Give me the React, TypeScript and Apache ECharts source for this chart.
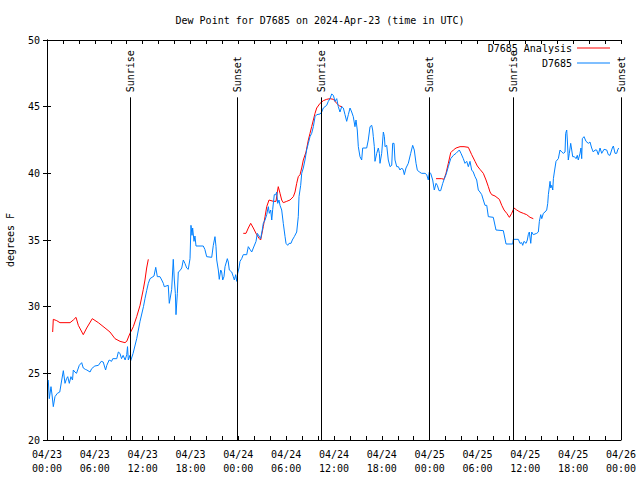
import React, { useEffect, useRef } from "react";
import * as echarts from "echarts";

const titleText = "Dew Point for D7685 on 2024-Apr-23 (time in UTC)";
const xTickLabels = [
  "04/23\n00:00", "04/23\n06:00", "04/23\n12:00", "04/23\n18:00",
  "04/24\n00:00", "04/24\n06:00", "04/24\n12:00", "04/24\n18:00",
  "04/25\n00:00", "04/25\n06:00", "04/25\n12:00", "04/25\n18:00",
  "04/26\n00:00",
];

// Sunrise / sunset times, hours after 04/23 00:00 UTC
const sunHours = [10.41, 23.83, 34.37, 47.93, 58.47, 71.95];
const sunLabels = ["Sunrise", "Sunset", "Sunrise", "Sunset", "Sunrise", "Sunset"];
const sunLineTop = 45.7;

// Observations (D7685): [hours after start, dew point F]
const obsPoints: [number, number][] = [
  [0.16, 24.5], [0.29, 23.1], [0.5, 24.0], [0.65, 23.3], [0.79, 22.5], [1.0, 23.25], [1.3, 23.5],
  [1.6, 23.6], [1.85, 24.5], [2.05, 25.2], [2.26, 24.25], [2.45, 24.6], [2.6, 24.75], [2.8, 24.25],
  [3.0, 24.75], [3.2, 24.5], [3.3, 25.25], [3.5, 25.1], [3.7, 25.0], [4.05, 25.6], [4.35, 25.8],
  [4.55, 25.4], [4.8, 25.3], [5.0, 25.25], [5.4, 25.1], [5.6, 25.35], [6.0, 25.55], [6.45, 25.6],
  [6.8, 25.9], [7.05, 25.85], [7.35, 25.25], [7.5, 25.6], [7.8, 26.0], [8.1, 25.9], [8.25, 26.1],
  [8.75, 26.1], [8.95, 26.6], [9.15, 26.5], [9.35, 26.1], [9.55, 26.35], [9.8, 26.0], [10.0, 26.4],
  [10.1, 27.0], [10.2, 26.0], [10.4, 26.35], [10.5, 25.95], [10.8, 26.5], [11.25, 27.6],
  [11.67, 28.9], [12.1, 30.0], [12.29, 30.6], [12.5, 31.2], [12.71, 31.75], [12.92, 32.1],
  [13.42, 32.3], [13.64, 32.95], [13.84, 32.25], [14.17, 32.25], [14.39, 32.0], [14.59, 31.75],
  [14.71, 31.5], [15.21, 31.6], [15.34, 30.25], [15.5, 30.8], [15.64, 31.3], [15.84, 33.55],
  [15.97, 32.0], [16.1, 31.0], [16.18, 29.4], [16.35, 31.0], [16.47, 32.6], [16.68, 32.7],
  [16.9, 32.9], [17.1, 33.5], [17.3, 33.25], [17.52, 32.9], [17.72, 32.8], [17.94, 33.6],
  [18.06, 36.1], [18.19, 35.35], [18.27, 35.9], [18.44, 34.9], [18.56, 35.3], [18.69, 34.55],
  [19.6, 34.55], [19.8, 34.3], [20.03, 33.75], [20.66, 33.7], [20.86, 34.6], [21.07, 35.25],
  [21.2, 34.5], [21.29, 33.5], [21.49, 32.75], [21.61, 32.05], [21.79, 32.75], [21.91, 32.6],
  [22.04, 32.0], [22.2, 32.25], [22.33, 33.0], [22.62, 33.6], [22.74, 33.35], [22.87, 32.75],
  [23.17, 32.6], [23.37, 32.25], [23.5, 32.0], [23.67, 32.4], [23.8, 31.9], [23.92, 32.5],
  [24.08, 32.9], [24.21, 33.4], [24.42, 33.6], [24.62, 33.9], [25.05, 33.9], [25.25, 34.5],
  [25.46, 34.3], [25.68, 34.1], [25.88, 34.4], [26.22, 34.9], [26.38, 35.5], [26.6, 35.3],
  [26.8, 35.1], [27.0, 35.75], [27.13, 36.25], [27.35, 36.5], [27.56, 36.9], [27.76, 37.5],
  [27.89, 37.0], [28.06, 37.25], [28.19, 36.5], [28.31, 37.3], [28.51, 38.4], [28.69, 38.4],
  [28.81, 38.6], [28.94, 37.75], [29.1, 38.0], [29.23, 37.6], [29.44, 37.25], [29.64, 36.25],
  [29.86, 35.25], [29.98, 34.75], [30.19, 34.6], [30.36, 34.75], [30.61, 34.75], [30.77, 35.0],
  [31.02, 35.25], [31.32, 35.6], [31.52, 36.75], [31.61, 38.25], [31.82, 39.1], [31.95, 40.0],
  [32.15, 40.4], [32.36, 41.0], [32.57, 41.75], [32.78, 42.25], [32.99, 42.75], [33.2, 43.0],
  [33.41, 43.5], [33.62, 44.25], [33.83, 44.4], [34.25, 44.45], [34.46, 44.6], [34.66, 44.9],
  [35.08, 45.1], [35.29, 45.4], [35.5, 45.6], [35.71, 45.95], [35.92, 45.85], [36.13, 45.4],
  [36.34, 45.6], [36.54, 45.0], [36.75, 44.6], [36.97, 45.0], [37.17, 44.9], [37.38, 44.4],
  [37.59, 43.9], [37.8, 44.4], [38.01, 44.9], [38.22, 44.6], [38.42, 44.25], [38.63, 43.5],
  [38.76, 44.0], [38.92, 43.25], [39.05, 42.0], [39.26, 41.25], [39.47, 41.0], [39.6, 41.9],
  [40.1, 41.9], [40.3, 42.5], [40.52, 43.5], [40.73, 43.6], [40.85, 43.25], [40.93, 42.75],
  [41.06, 42.0], [41.14, 40.9], [41.36, 41.5], [41.56, 41.9], [41.69, 41.5], [41.77, 40.75],
  [41.98, 41.5], [42.19, 43.1], [42.32, 42.75], [42.4, 42.0], [42.61, 42.1], [42.81, 41.0],
  [43.03, 40.5], [43.24, 40.6], [43.36, 42.25], [43.53, 42.25], [43.65, 41.0], [43.87, 40.5],
  [44.07, 40.5], [44.28, 40.25], [44.49, 40.4], [44.69, 40.25], [44.82, 39.9], [45.03, 40.4],
  [45.32, 40.75], [45.62, 41.5], [45.87, 42.1], [46.07, 41.75], [46.29, 40.75], [46.45, 40.25],
  [46.7, 40.1], [47.0, 40.0], [47.42, 40.0], [47.63, 39.9], [47.83, 39.5], [47.95, 40.1],
  [48.13, 40.0], [48.38, 39.5], [48.58, 38.75], [48.8, 39.25], [48.96, 39.1], [49.17, 38.7],
  [49.38, 38.7], [49.64, 39.25], [49.84, 39.6], [50.05, 39.9], [50.34, 40.5], [50.64, 41.1],
  [50.97, 41.35], [51.31, 41.5], [51.47, 41.6], [51.72, 41.75], [51.93, 41.5], [52.22, 41.1],
  [52.43, 40.75], [52.65, 40.9], [52.85, 40.5], [53.06, 40.9], [53.27, 40.25], [53.47, 40.1],
  [53.69, 39.75], [53.9, 39.5], [54.1, 38.75], [54.31, 38.6], [54.53, 38.4], [54.73, 38.0],
  [54.94, 37.6], [55.16, 37.6], [55.36, 36.75], [55.98, 36.7], [56.32, 35.75], [57.24, 35.7],
  [57.58, 34.7], [58.42, 34.7], [58.49, 35.05], [59.12, 35.05], [59.33, 34.75], [59.55, 34.8],
  [59.67, 34.6], [59.83, 34.9], [60.09, 34.75], [60.25, 35.0], [60.37, 35.4], [60.5, 35.6],
  [60.68, 34.75], [60.8, 35.6], [61.0, 35.4], [61.43, 35.5], [61.63, 35.6], [61.76, 36.4],
  [61.93, 36.9], [62.06, 36.6], [62.26, 37.0], [62.47, 37.1], [62.68, 37.25], [62.81, 37.75],
  [62.89, 38.4], [63.1, 39.4], [63.19, 38.9], [63.31, 39.1], [63.44, 38.75], [63.52, 39.6],
  [63.64, 40.1], [63.85, 40.9], [64.14, 41.1], [64.35, 41.75], [64.57, 41.6], [64.77, 41.5],
  [64.98, 41.6], [65.06, 43.0], [65.19, 43.25], [65.27, 42.5], [65.39, 41.0], [65.52, 41.5],
  [65.69, 42.25], [65.82, 41.75], [65.94, 41.25], [66.15, 41.25], [66.36, 41.1], [66.52, 41.35],
  [66.64, 41.0], [66.86, 41.5], [66.98, 41.9], [67.07, 41.1], [67.15, 42.6], [67.36, 42.75],
  [67.61, 42.4], [67.9, 42.25], [68.11, 42.35], [68.32, 41.9], [68.52, 41.6], [68.74, 41.75],
  [68.95, 41.75], [69.15, 41.4], [69.37, 41.9], [69.58, 41.5], [69.87, 41.8], [70.21, 41.75],
  [70.41, 41.4], [70.62, 41.35], [70.91, 41.9], [71.04, 42.05], [71.25, 41.5], [71.46, 41.5],
  [71.58, 41.75], [71.71, 41.9],
];

// Analysis (D7685 Analysis), three segments with gaps
const analysisSeg1: [number, number][] = [
  [0.71, 28.1], [0.79, 29.05], [1.22, 28.95], [1.63, 28.8], [2.89, 28.8], [3.3, 29.0], [3.64, 29.2],
  [3.93, 28.6], [4.55, 27.9], [4.98, 28.4], [5.68, 29.1], [6.44, 28.8], [7.28, 28.4], [7.9, 28.1],
  [8.53, 27.6], [9.16, 27.4], [9.78, 27.3], [10.0, 27.4], [10.41, 28.0], [10.83, 28.5],
  [11.25, 29.25], [11.67, 30.1], [12.08, 31.3], [12.29, 32.0], [12.5, 32.9], [12.71, 33.55],
];
const analysisSeg2: [number, number][] = [
  [24.62, 35.5], [24.96, 35.5], [25.25, 35.9], [25.55, 36.25], [25.88, 35.9], [26.3, 35.4],
  [26.63, 35.1], [26.8, 35.0], [27.13, 36.0], [27.35, 36.75], [27.56, 37.5], [27.85, 38.0],
  [28.39, 37.9], [28.73, 37.9], [28.89, 38.6], [29.01, 39.0], [29.23, 38.5], [29.44, 38.0],
  [29.64, 37.8], [30.07, 37.9], [30.48, 38.0], [30.9, 38.25], [31.11, 38.6], [31.32, 39.25],
  [31.52, 39.75], [31.74, 39.9], [31.95, 40.4], [32.15, 41.0], [32.49, 41.6], [32.78, 42.5],
  [32.99, 43.0], [33.2, 43.5], [33.41, 44.0], [33.62, 44.5], [33.83, 44.9], [34.25, 45.25],
  [34.66, 45.45], [35.08, 45.55], [35.5, 45.6], [35.92, 45.55], [36.34, 45.25], [36.67, 45.05],
  [37.0, 45.0],
];
const analysisSeg3: [number, number][] = [
  [48.8, 39.6], [49.51, 39.6], [49.8, 39.55], [50.05, 40.0], [50.34, 40.75], [50.64, 41.55],
  [50.97, 41.75], [51.31, 41.9], [51.81, 42.0], [52.31, 42.0], [52.85, 41.95], [53.27, 41.4],
  [53.69, 40.9], [53.98, 40.55], [54.31, 40.3], [54.73, 40.0], [55.07, 39.5], [55.36, 39.0],
  [55.57, 38.6], [55.78, 38.4], [56.2, 38.3], [56.74, 38.05], [57.04, 37.6], [57.33, 37.25],
  [57.67, 37.0], [58.0, 36.7], [58.29, 37.0], [58.58, 37.4], [58.92, 37.25], [59.33, 37.1],
  [59.75, 37.0], [60.17, 36.9], [60.59, 36.7], [61.0, 36.6],
];

const FONT = "DejaVu Sans Mono";

export default function App() {
  const ref = useRef<HTMLDivElement>(null);
  useEffect(() => {
    if (!ref.current) return;
    const chart = echarts.init(ref.current, null, { renderer: "svg" });
    const analysisData: any[] = [
      ...analysisSeg1,
      [18, "-"],
      ...analysisSeg2,
      [43, "-"],
      ...analysisSeg3,
    ];
    const axisCommon = {
      axisLine: { show: true, lineStyle: { color: "#000", width: 1 } },
      axisTick: { show: true, inside: true, length: 4, lineStyle: { color: "#000" } },
      splitLine: { show: false },
    };
    const option: any = {
      animation: false,
      backgroundColor: "#fff",
      textStyle: { fontFamily: FONT, fontSize: 10, color: "#000" },
      title: {
        text: titleText,
        left: "center",
        top: 10,
        textStyle: { fontFamily: FONT, fontSize: 10, fontWeight: "normal", color: "#000" },
      },
      grid: {
        left: 47,
        right: 19,
        top: 40,
        bottom: 40,
        containLabel: false,
        outerBoundsMode: "none",
      },
      legend: {
        data: ["D7685 Analysis", "D7685"],
        orient: "vertical",
        right: 30,
        top: 42,
        padding: 0,
        align: "right",
        icon: "rect",
        itemWidth: 33,
        itemHeight: 1,
        itemGap: 3,
        textStyle: { fontFamily: FONT, fontSize: 10, color: "#000", lineHeight: 12 },
      },
      xAxis: [
        {
          type: "value",
          min: 0,
          max: 72,
          interval: 6,
          ...axisCommon,
          minorTick: { show: true, splitNumber: 3, length: 4, lineStyle: { color: "#000" } },
          axisLabel: {
            formatter: (v: number) => xTickLabels[Math.round(v / 6)] ?? "",
            margin: 7,
            lineHeight: 14,
            fontFamily: FONT,
            fontSize: 10,
            color: "#000",
          },
        },
        {
          type: "value",
          position: "top",
          min: 0,
          max: 72,
          interval: 6,
          ...axisCommon,
          minorTick: { show: true, splitNumber: 3, length: 4, lineStyle: { color: "#000" } },
          axisLabel: { show: false },
        },
      ],
      yAxis: [
        {
          type: "value",
          min: 20,
          max: 50,
          interval: 5,
          ...axisCommon,
          name: "degrees F",
          nameLocation: "middle",
          nameGap: 32,
          nameRotate: 90,
          nameTextStyle: { fontFamily: FONT, fontSize: 10, color: "#000" },
          axisLabel: { margin: 7, fontFamily: FONT, fontSize: 10, color: "#000" },
        },
        {
          type: "value",
          position: "right",
          min: 20,
          max: 50,
          interval: 5,
          ...axisCommon,
          axisLabel: { show: false },
        },
      ],
      series: [
        {
          name: "D7685 Analysis",
          type: "line",
          data: analysisData,
          symbol: "none",
          connectNulls: false,
          lineStyle: { color: "#ff0000", width: 1 },
          itemStyle: { color: "#ff0000" },
          z: 3,
        },
        {
          name: "D7685",
          type: "line",
          data: obsPoints,
          symbol: "none",
          lineStyle: { color: "#0080ff", width: 1 },
          itemStyle: { color: "#0080ff" },
          z: 4,
        },
        {
          name: "sun",
          type: "custom",
          data: sunHours.map((h, i) => [h, i]),
          clip: false,
          silent: true,
          z: 5,
          renderItem: (_params: any, api: any) => {
            const h = api.value(0);
            const idx = api.value(1);
            const bottom = api.coord([h, 20]);
            const top = api.coord([h, sunLineTop]);
            const x = Math.round(bottom[0]) + 0.5;
            return {
              type: "group",
              children: [
                {
                  type: "line",
                  shape: { x1: x, y1: bottom[1], x2: x, y2: top[1] },
                  style: { stroke: "#000", lineWidth: 1 },
                },
                {
                  type: "text",
                  x: x,
                  y: top[1] - 5,
                  rotation: Math.PI / 2,
                  style: {
                    text: sunLabels[idx],
                    textAlign: "left",
                    textVerticalAlign: "middle",
                    font: `10px ${FONT}`,
                    fill: "#000",
                  },
                },
              ],
            };
          },
        },
      ],
    };
    chart.setOption(option);
    return () => chart.dispose();
  }, []);
  return (
    <div
      ref={ref}
      style={{ position: "fixed", left: 0, top: 0, width: 640, height: 480, background: "#fff" }}
    />
  );
}
